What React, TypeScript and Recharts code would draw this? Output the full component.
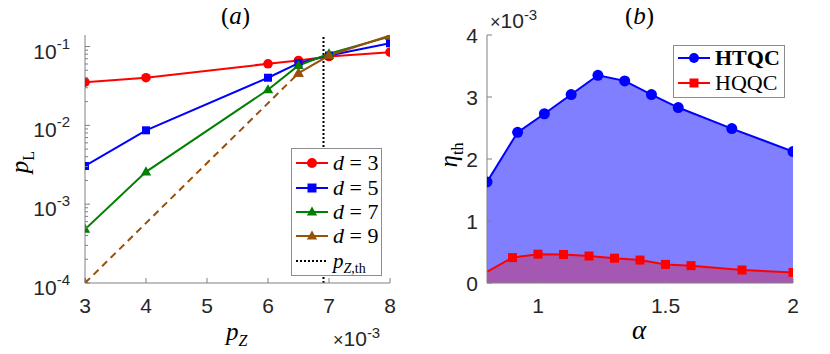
import React from 'react'
import { ComposedChart, Line, Area, XAxis, YAxis, ReferenceLine } from 'recharts'

// panel (a): logical error rate vs p_Z (x in units of 1e-3)
const pZ = [3, 4, 6, 6.5, 7, 8]
const pL3 = [0.0353, 0.0402, 0.0604, 0.0665, 0.0747, 0.0847]
const pL5 = [0.00305, 0.00865, 0.0402, 0.0615, 0.0769, 0.11]
const pL7 = [0.00048, 0.00257, 0.0283, 0.0575, 0.0809, 0.134]
const pZ9 = [3, 6.5, 7, 8]
const pL9 = [0.0001, 0.0459, 0.0769, 0.138]
const pZth = 6.91
const xTicksA = [3, 4, 5, 6, 7, 8]

// panel (b): threshold vs alpha (eta in units of 1e-3)
const alphaHT = [0.8, 0.92, 1.025, 1.13, 1.235, 1.34, 1.445, 1.55, 1.76, 2.0]
const etaHT = [1.63, 2.43, 2.73, 3.04, 3.35, 3.26, 3.04, 2.83, 2.49, 2.12]
const alphaHQ = [0.8, 0.9, 1.0, 1.1, 1.2, 1.3, 1.4, 1.5, 1.6, 1.8, 2.0]
const etaHQ = [0.18, 0.41, 0.465, 0.46, 0.435, 0.4, 0.37, 0.3, 0.28, 0.21, 0.17]
const xTicksB = [1, 1.5, 2]
const yTicksB = [0, 1, 2, 3, 4]

const toRows = (xs: number[], ys: number[]) => xs.map((x, i) => ({ x, y: ys[i] }))

const d3 = toRows(pZ, pL3)
const d5 = toRows(pZ, pL5)
const d7 = toRows(pZ, pL7)
const d9 = toRows(pZ9, pL9)
const ht = toRows(alphaHT, etaHT)
const hq = toRows(alphaHQ, etaHQ)

// log ticks: decades plus minor 2..9
const logTicks: number[] = []
for (let e = -4; e <= -2; e++) for (let k = 1; k <= 9; k++) logTicks.push(Number((k * Math.pow(10, e)).toPrecision(3)))
logTicks.push(0.1)

const AX = '#808080'
const TXT = '#262626'
const SANS = '"Liberation Sans", Arial, sans-serif'
const SERIF = '"Liberation Serif", "DejaVu Serif", serif'
const RED = '#ff0000'
const BLUE = '#0000ff'
const GREEN = '#008000'
const BROWN = '#99500a'
const FS = 21

const isMajor = (v: number) => {
  const lg = Math.log10(v)
  return Math.abs(lg - Math.round(lg)) < 1e-6
}

function BottomTick({ x, y, payload }: any) {
  return (
    <g>
      <line x1={x} x2={x} y1={y} y2={y - 5} stroke={AX} />
      <text x={x} y={y + 30} textAnchor="middle" fontSize={FS} fontFamily={SANS} fill={TXT}>
        {payload.value}
      </text>
    </g>
  )
}

function TopTick({ x, y }: any) {
  return <line x1={x} x2={x} y1={y} y2={y + 5} stroke={AX} />
}

function LogLeftTick({ x, y, payload }: any) {
  const major = isMajor(payload.value)
  return (
    <g>
      <line x1={x} x2={x + (major ? 5 : 3)} y1={y} y2={y} stroke={AX} />
      {major && (
        <text x={x - 15} y={y + 12} textAnchor="end" fontSize={FS} fontFamily={SANS} fill={TXT}>
          10<tspan dy={-10} fontSize={15}>{Math.round(Math.log10(payload.value))}</tspan>
        </text>
      )}
    </g>
  )
}

function LogRightTick({ x, y, payload }: any) {
  const major = isMajor(payload.value)
  return <line x1={x} x2={x - (major ? 5 : 3)} y1={y} y2={y} stroke={AX} />
}

function LinLeftTick({ x, y, payload }: any) {
  return (
    <g>
      <line x1={x} x2={x + 5} y1={y} y2={y} stroke={AX} />
      <text x={x - 9} y={y + 8} textAnchor="end" fontSize={FS} fontFamily={SANS} fill={TXT}>
        {payload.value}
      </text>
    </g>
  )
}

function RightTick({ x, y }: any) {
  return <line x1={x} x2={x - 5} y1={y} y2={y} stroke={AX} />
}

const circleDot = (color: string, r: number) => (p: any) => (
  <circle key={p.index} cx={p.cx} cy={p.cy} r={r} fill={color} stroke="none" />
)

const squareDot = (color: string, s: number, skipFirst = false) => (p: any) =>
  skipFirst && p.index === 0 ? (
    <g key={p.index} />
  ) : (
    <rect key={p.index} x={p.cx - s / 2} y={p.cy - s / 2} width={s} height={s} fill={color} />
  )

const triDot = (color: string, s: number) => (p: any) => (
  <polygon
    key={p.index}
    points={`${p.cx},${p.cy - s} ${p.cx - s * 0.95},${p.cy + s * 0.65} ${p.cx + s * 0.95},${p.cy + s * 0.65}`}
    fill={color}
  />
)

function Sample({ color, marker, dash }: { color: string; marker?: string; dash?: string }) {
  return (
    <svg width={34} height={22} style={{ display: 'block' }}>
      <line x1={1} x2={33} y1={11} y2={11} stroke={color} strokeWidth={2} strokeDasharray={dash} />
      {marker === 'o' && <circle cx={17} cy={11} r={5} fill={color} />}
      {marker === 's' && <rect x={12.5} y={6.5} width={9} height={9} fill={color} />}
      {marker === '^' && <polygon points="17,5.5 11.8,14.6 22.2,14.6" fill={color} />}
    </svg>
  )
}

const abs = (left: number, top: number, extra: React.CSSProperties = {}): React.CSSProperties => ({
  position: 'absolute',
  left,
  top,
  ...extra,
})

function LegendRow({ top, color, marker, dash, children }: any) {
  return (
    <div style={abs(3, top - 11, { display: 'flex', alignItems: 'center', height: 22, whiteSpace: 'nowrap' })}>
      <Sample color={color} marker={marker} dash={dash} />
      <span style={{ marginLeft: 4, fontSize: 22, fontFamily: SERIF, color: '#000', lineHeight: '22px' }}>{children}</span>
    </div>
  )
}

function Times103({ left, top }: { left: number; top: number }) {
  return (
    <div style={abs(left, top, { fontFamily: SANS, fontSize: FS, color: TXT, whiteSpace: 'nowrap', lineHeight: '22px' })}>
      <span style={{ fontSize: 18 }}>×</span>10<sup style={{ fontSize: 15, verticalAlign: 8, lineHeight: 0 }}>-3</sup>
    </div>
  )
}

export default function App() {
  return (
    <div style={{ position: 'relative', width: 830, height: 354, margin: -8, background: '#fff', overflow: 'hidden' }}>
      {/* panel (a) */}
      <div style={abs(0, 0)}>
        <ComposedChart width={415} height={354} margin={{ top: 35, right: 25, bottom: 0, left: 0 }}>
          <XAxis
            dataKey="x"
            type="number"
            domain={[3, 8]}
            ticks={xTicksA}
            allowDataOverflow
            height={71}
            stroke={AX}
            tickSize={0}
            tickMargin={0}
            interval={0}
            tick={(p: any) => <BottomTick {...p} />}
          />
          <XAxis
            xAxisId="top"
            orientation="top"
            type="number"
            domain={[3, 8]}
            ticks={xTicksA}
            allowDataOverflow
            height={0}
            stroke={AX}
            tickSize={0}
            tickMargin={0}
            interval={0}
            tick={(p: any) => <TopTick {...p} />}
          />
          <YAxis
            type="number"
            scale="log"
            domain={[0.0001, 0.14]}
            ticks={logTicks}
            allowDataOverflow
            width={85}
            stroke={AX}
            tickSize={0}
            tickMargin={0}
            interval={0}
            tick={(p: any) => <LogLeftTick {...p} />}
          />
          <YAxis
            yAxisId="right"
            orientation="right"
            type="number"
            scale="log"
            domain={[0.0001, 0.14]}
            ticks={logTicks}
            allowDataOverflow
            width={0}
            stroke={AX}
            tickSize={0}
            tickMargin={0}
            interval={0}
            tick={(p: any) => <LogRightTick {...p} />}
          />
          <ReferenceLine x={pZth} stroke="#000" strokeWidth={2} strokeDasharray="2 2" />
          <Line data={d3} dataKey="y" type="linear" stroke={RED} strokeWidth={2} dot={circleDot(RED, 4.8)} activeDot={false} isAnimationActive={false} />
          <Line data={d5} dataKey="y" type="linear" stroke={BLUE} strokeWidth={2} dot={squareDot(BLUE, 8)} activeDot={false} isAnimationActive={false} />
          <Line data={d7} dataKey="y" type="linear" stroke={GREEN} strokeWidth={2} dot={triDot(GREEN, 5.5)} activeDot={false} isAnimationActive={false} />
          <Line data={d9.slice(0, 2)} dataKey="y" type="linear" stroke={BROWN} strokeWidth={2} strokeDasharray="7 5" dot={triDot(BROWN, 5.5)} activeDot={false} isAnimationActive={false} />
          <Line data={d9.slice(1)} dataKey="y" type="linear" stroke={BROWN} strokeWidth={2} dot={triDot(BROWN, 5.5)} activeDot={false} isAnimationActive={false} />
        </ComposedChart>
      </div>

      {/* panel (b) */}
      <div style={abs(415, 0)}>
        <ComposedChart width={415} height={354} margin={{ top: 35, right: 37, bottom: 0, left: 0 }}>
          <XAxis
            dataKey="x"
            type="number"
            domain={[0.8, 2]}
            ticks={xTicksB}
            allowDataOverflow
            height={71}
            stroke={AX}
            tickSize={0}
            tickMargin={0}
            interval={0}
            tick={(p: any) => <BottomTick {...p} />}
          />
          <XAxis
            xAxisId="top"
            orientation="top"
            type="number"
            domain={[0.8, 2]}
            ticks={xTicksB}
            allowDataOverflow
            height={0}
            stroke={AX}
            tickSize={0}
            tickMargin={0}
            interval={0}
            tick={(p: any) => <TopTick {...p} />}
          />
          <YAxis
            type="number"
            domain={[0, 4]}
            ticks={yTicksB}
            allowDataOverflow
            width={72}
            stroke={AX}
            tickSize={0}
            tickMargin={0}
            interval={0}
            tick={(p: any) => <LinLeftTick {...p} />}
          />
          <YAxis
            yAxisId="right"
            orientation="right"
            type="number"
            domain={[0, 4]}
            ticks={yTicksB}
            allowDataOverflow
            width={0}
            stroke={AX}
            tickSize={0}
            tickMargin={0}
            interval={0}
            tick={(p: any) => <RightTick {...p} />}
          />
          <Area data={ht} dataKey="y" type="linear" stroke={BLUE} strokeWidth={2} fill={BLUE} fillOpacity={0.5} dot={circleDot(BLUE, 5.5)} activeDot={false} isAnimationActive={false} />
          <Area data={hq} dataKey="y" type="linear" stroke={RED} strokeWidth={2} fill={RED} fillOpacity={0.3} dot={squareDot(RED, 9, true)} activeDot={false} isAnimationActive={false} />
        </ComposedChart>
      </div>

      {/* titles and axis labels */}
      <div style={abs(221, 1, { fontFamily: SERIF, fontSize: 25, lineHeight: '30px' })}>
        (<i>a</i>)
      </div>
      <div style={abs(625, 1, { fontFamily: SERIF, fontSize: 25, lineHeight: '30px' })}>
        (<i>b</i>)
      </div>
      <div style={abs(226, 318, { fontFamily: SERIF, fontSize: 25, whiteSpace: 'nowrap' })}>
        <i>p</i>
        <sub style={{ fontSize: 16 }}>
          <i>Z</i>
        </sub>
      </div>
      <div style={abs(632, 315, { fontFamily: SERIF, fontSize: 27 })}>
        <i>α</i>
      </div>
      <div style={abs(22, 162, { fontFamily: SERIF, fontSize: 25, whiteSpace: 'nowrap', transform: 'translate(-50%,-50%) rotate(-90deg)' })}>
        <i>p</i>
        <sub style={{ fontSize: 16 }}>L</sub>
      </div>
      <div style={abs(451, 155, { fontFamily: SERIF, fontSize: 25, whiteSpace: 'nowrap', transform: 'translate(-50%,-50%) rotate(-90deg)' })}>
        <i>η</i>
        <sub style={{ fontSize: 16 }}>th</sub>
      </div>
      <Times103 left={333} top={328} />
      <Times103 left={490} top={10} />

      {/* legend (a) */}
      <div style={abs(291, 148, { width: 89, height: 126, border: '1px solid #8c8c8c', background: '#fff' })}>
        <LegendRow top={13.5} color={RED} marker="o">
          <i>d</i> = 3
        </LegendRow>
        <LegendRow top={38.5} color={BLUE} marker="s">
          <i>d</i> = 5
        </LegendRow>
        <LegendRow top={62.5} color={GREEN} marker="^">
          <i>d</i> = 7
        </LegendRow>
        <LegendRow top={87} color={BROWN} marker="^">
          <i>d</i> = 9
        </LegendRow>
        <LegendRow top={112} color="#000" dash="2 2">
          <span style={{ fontSize: 21 }}>
            <i>p</i>
            <sub style={{ fontSize: 14, lineHeight: 0 }}>
              <i>Z</i>,th
            </sub>
          </span>
        </LegendRow>
      </div>

      {/* legend (b) */}
      <div style={abs(673, 45, { width: 110, height: 51, border: '1px solid #8c8c8c', background: '#fff' })}>
        <LegendRow top={11.5} color={BLUE} marker="o">
          <b>HTQC</b>
        </LegendRow>
        <LegendRow top={36.5} color={RED} marker="s">
          HQQC
        </LegendRow>
      </div>
    </div>
  )
}
